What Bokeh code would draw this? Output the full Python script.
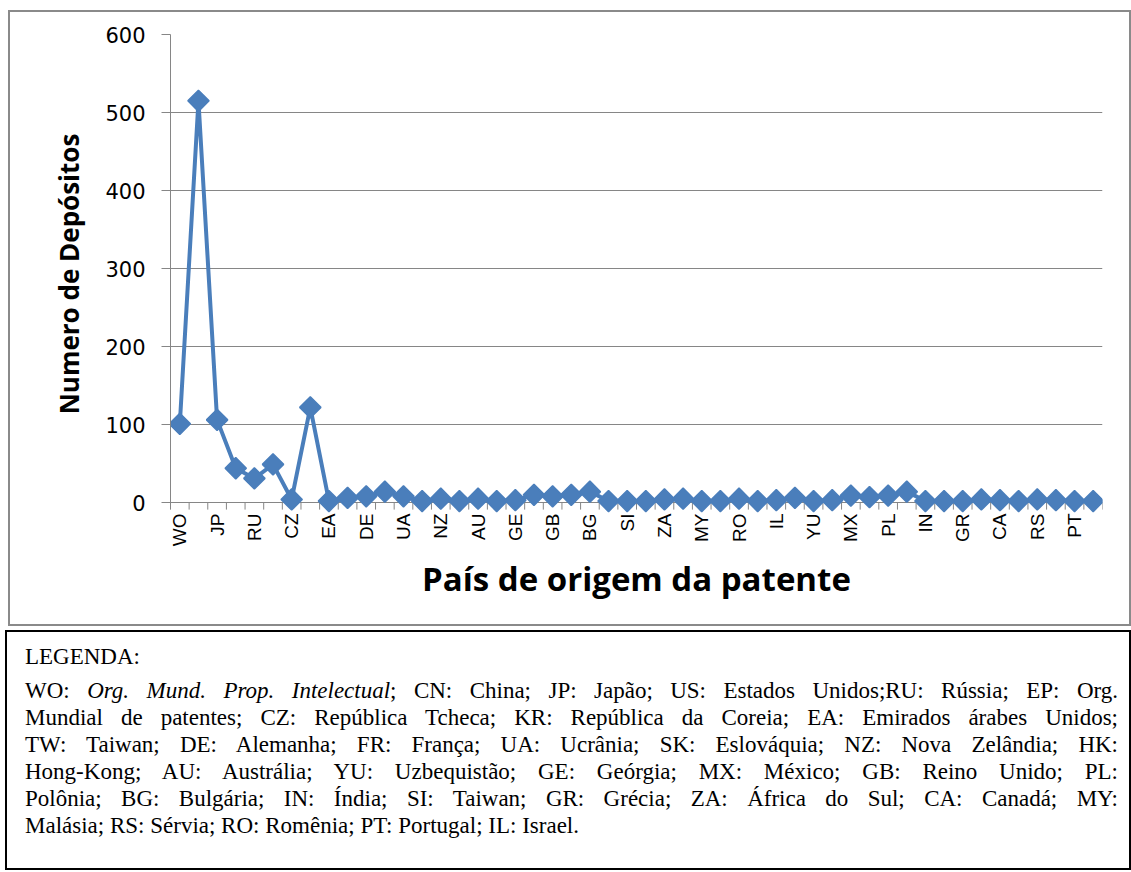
import math
from bokeh.plotting import figure
from bokeh.models import FixedTicker, Div, Range1d
from bokeh.layouts import column
from bokeh.embed import file_html
from bokeh.resources import INLINE

# ---------------- data ----------------
codes = ["WO", "CN", "JP", "US", "RU", "EP", "CZ", "KR", "EA", "TW",
         "DE", "FR", "UA", "SK", "NZ", "HK", "AU", "YU", "GE", "MX",
         "GB", "PL", "BG", "IN", "SI", "GR", "ZA", "CA", "MY", "RS",
         "RO", "PT", "IL", "AU", "YU", "GE", "MX", "GB", "PL", "BG",
         "IN", "SI", "GR", "ZA", "CA", "MY", "RS", "RO", "PT", "IL"]
deposits = [101, 515, 106, 44, 31, 49, 4, 122, 2, 6,
            8, 14, 8, 2, 5, 2, 5, 2, 3, 10,
            8, 10, 14, 2, 2, 2, 4, 5, 2, 2,
            5, 2, 3, 6, 2, 3, 9, 7, 9, 14,
            2, 2, 2, 4, 3, 2, 4, 3, 2, 2]
y_ticks = [0, 100, 200, 300, 400, 500, 600]
x_title = "País de origem da patente"
y_title = "Numero de Depósitos"
legend_title = "LEGENDA:"
legend_lines = [
    "WO: <i>Org. Mund. Prop. Intelectual</i>; CN: China; JP: Japão; US: Estados Unidos;RU: Rússia; EP: Org.",
    "Mundial de patentes; CZ: República Tcheca; KR: República da Coreia; EA: Emirados árabes Unidos;",
    "TW: Taiwan; DE: Alemanha; FR: França; UA: Ucrânia; SK: Eslováquia; NZ: Nova Zelândia; HK:",
    "Hong-Kong; AU: Austrália; YU: Uzbequistão; GE: Geórgia; MX: México; GB: Reino Unido; PL:",
    "Polônia; BG: Bulgária; IN: Índia; SI: Taiwan; GR: Grécia; ZA: África do Sul; CA: Canadá; MY:",
    "Malásia; RS: Sérvia; RO: Romênia; PT: Portugal; IL: Israel.",
]

BLUE = "#4A7EBB"
GRAY = "#868686"

xs = list(range(len(codes)))
bounds = [i - 0.5 for i in range(len(codes) + 1)]

p = figure(width=1123, height=616, output_backend="svg", toolbar_location=None,
           x_range=Range1d(-0.5, len(codes) - 0.5), y_range=Range1d(-14, 600),
           min_border_left=160, min_border_right=31, min_border_top=22,
           min_border_bottom=115)
p.margin = (10, 0, 0, 8)
p.styles = {"border": "2px solid #8a8a8a"}
p.outline_line_color = None
p.background_fill_color = "white"
p.border_fill_color = "white"

# category boundary tick marks below the zero line
p.segment(x0=bounds, y0=[0] * len(bounds), x1=bounds, y1=[-9] * len(bounds),
          line_color=GRAY, line_width=1)

p.line(xs, deposits, line_width=4, color=BLUE)
p.scatter(xs, deposits, marker="square", angle=math.pi / 4, size=15,
          fill_color=BLUE, line_color=BLUE, line_width=1.5)

# x axis
xa = p.xaxis[0]
xa.ticker = FixedTicker(ticks=xs[::2])
xa.major_label_overrides = {i: codes[i] for i in xs[::2]}
xa.major_label_orientation = math.pi / 2
xa.major_tick_line_color = None
xa.minor_tick_line_color = None
xa.major_tick_out = 0
xa.major_tick_in = 0
xa.axis_line_color = None
xa.major_label_standoff = 0
xa.major_label_text_font = "Liberation Sans"
xa.major_label_text_font_size = "19px"
xa.major_label_text_color = "#000000"
xa.axis_label = x_title
xa.axis_label_text_font = "Open Sans"
xa.axis_label_text_font_style = "bold"
xa.axis_label_text_font_size = "33px"
xa.axis_label_text_color = "#000000"
xa.axis_label_standoff = 7

# y axis
ya = p.yaxis[0]
ya.ticker = FixedTicker(ticks=y_ticks)
ya.bounds = (-9, 600)
ya.major_tick_out = 9
ya.major_tick_in = 0
ya.major_tick_line_color = GRAY
ya.minor_tick_line_color = None
ya.axis_line_color = GRAY
ya.major_label_standoff = 16
ya.major_label_text_font = "DejaVu Sans"
ya.major_label_text_font_size = "21px"
ya.major_label_text_color = "#000000"
ya.axis_label = y_title
ya.axis_label_text_font = "Open Sans"
ya.axis_label_text_font_style = "bold"
ya.axis_label_text_font_size = "26px"
ya.axis_label_text_color = "#000000"
ya.axis_label_standoff = 15

p.xgrid.grid_line_color = None
p.ygrid.ticker = FixedTicker(ticks=y_ticks)
p.ygrid.grid_line_color = GRAY
p.ygrid.grid_line_width = 1

# legend box
line_divs = []
for i, ln in enumerate(legend_lines):
    last = i == len(legend_lines) - 1
    align = "left" if last else "justify"
    line_divs.append(
        f'<div style="text-align:justify;text-align-last:{align};white-space:nowrap;">{ln}</div>')
html = (
    '<div style="box-sizing:border-box;width:1126px;height:240px;border:2px solid #000;margin:0;'
    'padding:11px 11px 0 18px;font-family:\'Liberation Serif\',\'Times New Roman\',serif;'
    'font-size:23px;line-height:27px;color:#000;background:#fff;">'
    f'<div style="margin-bottom:7px;">{legend_title}</div>'
    + "".join(line_divs) + '</div>'
)
legend_div = Div(text=html, width=1126, height=240)
legend_div.margin = (0, 0, 0, 5)

layout = column(p, legend_div, spacing=4)

with open("out.html", "w") as f:
    f.write(file_html(layout, INLINE))
